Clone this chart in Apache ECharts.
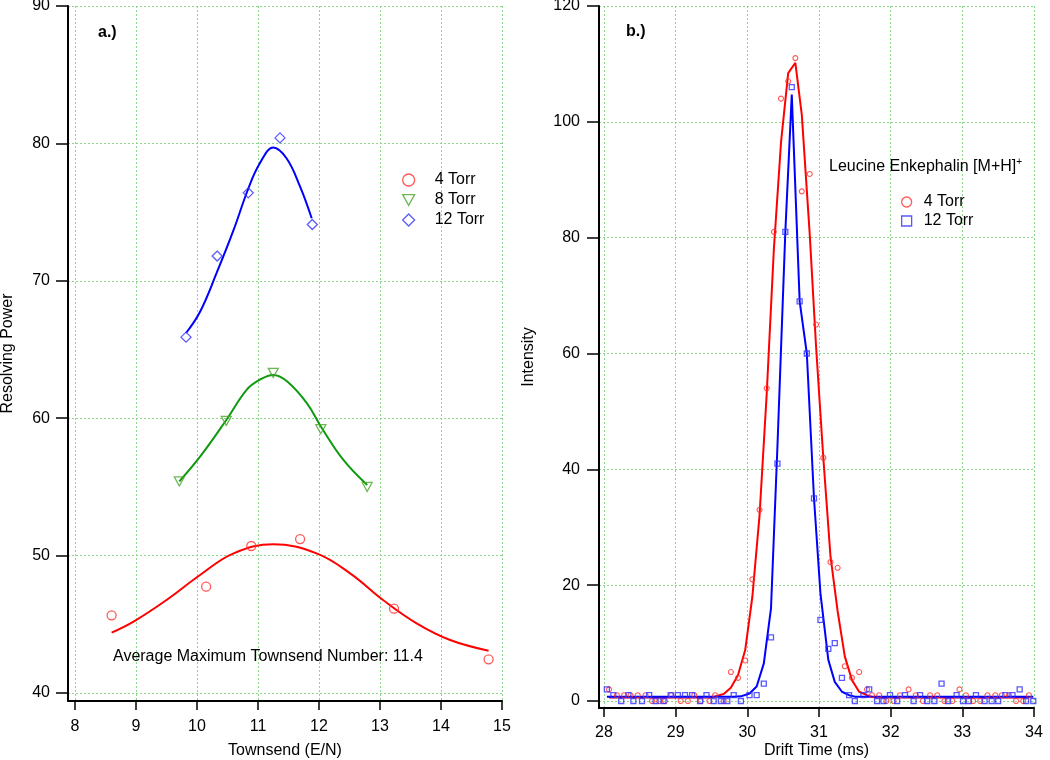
<!DOCTYPE html>
<html><head><meta charset="utf-8">
<script src="https://cdn.jsdelivr.net/npm/echarts@6/dist/echarts.min.js"></script>
<style>html,body{margin:0;padding:0;background:#fff}#c{width:1050px;height:760px}</style>
</head><body><div id="c"></div>
<script>
// ---------- Panel a: Resolving power vs Townsend ----------
const townsendTicks = [8, 9, 10, 11, 12, 13, 14, 15];
const rpTicks = [40, 50, 60, 70, 80, 90];

const townsend4 = [8.60, 10.15, 10.89, 11.69, 13.23, 14.78];
const rp4 = [45.65, 47.74, 50.7, 51.2, 46.14, 42.45];
const townsend8 = [9.71, 10.48, 11.25, 12.03, 12.79];
const rp8 = [55.4, 59.8, 63.3, 59.2, 55.0];
const townsend12 = [9.82, 10.33, 10.84, 11.36, 11.89];
const rp12 = [65.9, 71.8, 76.4, 80.4, 74.1];

const fit4x = [8.60, 8.96, 9.50, 10.05, 10.60, 11.25, 11.96, 12.51, 13.05, 13.60, 14.15, 14.78];
const fit4y = [44.4, 45.2, 46.77, 48.59, 50.16, 50.82, 50.16, 48.71, 46.77, 45.07, 43.86, 43.08];
const fit8x = [9.71, 10.05, 10.48, 10.81, 11.03, 11.25, 11.47, 11.80, 12.03, 12.40, 12.79];
const fit8y = [55.4, 57.2, 59.87, 62.05, 62.8, 63.15, 62.7, 61.1, 59.4, 56.96, 55.14];
const fit12x = [9.82, 10.05, 10.32, 10.60, 10.84, 11.03, 11.25, 11.47, 11.69, 11.88];
const fit12y = [66.2, 67.75, 70.55, 73.7, 76.7, 78.55, 79.7, 78.9, 76.85, 74.55];

// ---------- Panel b: Intensity vs drift time ----------
const driftTicks = [28, 29, 30, 31, 32, 33, 34];
const intTicks = [0, 20, 40, 60, 80, 100, 120];

const drift4 = [28.07,28.18,28.28,28.37,28.47,28.58,28.67,28.77,28.85,28.94,
  29.07,29.17,29.26,29.35,29.47,29.55,29.67,29.77,29.87,29.97,
  30.07,30.17,30.27,30.37,30.47,30.57,30.67,30.76,30.87,30.96,
  31.06,31.16,31.26,31.36,31.46,31.56,31.67,31.74,31.84,31.94,
  32.04,32.13,32.25,32.35,32.45,32.55,32.65,32.75,32.86,32.96,
  33.05,33.15,33.25,33.35,33.46,33.55,33.65,33.75,33.85,33.93];
const int4 = [2,1,1,1,1,1,0,0,0,1,
  0,0,1,0,0,1,0,5,4,7,
  21,33,54,81,104,107,111,88,91,65,
  42,24,23,6,4,5,2,1,1,0,
  0,1,2,1,0,1,1,0,0,2,
  1,0,0,1,1,1,1,0,0,1];
const fit4 = [0.6,0.6,0.6,0.6,0.6,0.6,0.6,0.6,0.6,0.6,
  0.6,0.6,0.6,0.6,0.6,0.8,1.2,2.3,4.5,8.8,
  18,32,53,78,96.5,108.4,110.2,101.2,80.7,61,
  42,25,15.5,7.7,3.6,1.6,1.0,0.7,0.6,0.6,
  0.6,0.6,0.6,0.6,0.6,0.6,0.6,0.6,0.6,0.6,
  0.6,0.6,0.6,0.6,0.6,0.6,0.6,0.6,0.6,0.6];

const drift12 = [28.04,28.13,28.24,28.34,28.41,28.53,28.63,28.72,28.83,28.93,
  29.03,29.13,29.23,29.34,29.43,29.53,29.63,29.72,29.81,29.91,
  30.03,30.13,30.23,30.33,30.42,30.53,30.62,30.73,30.83,30.93,
  31.02,31.13,31.22,31.32,31.42,31.50,31.62,31.70,31.81,31.90,
  31.99,32.09,32.20,32.32,32.41,32.51,32.61,32.71,32.80,32.92,
  33.01,33.09,33.19,33.31,33.41,33.50,33.60,33.70,33.80,33.89,33.99];
const int12 = [2,1,0,1,0,0,1,0,0,1,
  1,1,1,0,1,0,0,0,1,0,
  1,1,3,11,41,81,106,69,60,35,
  14,9,10,4,1,0,1,2,0,0,
  1,0,1,0,1,0,0,3,0,1,
  0,0,1,0,0,0,1,1,2,0,0];
const fit12 = [0.75,0.75,0.75,0.75,0.75,0.75,0.75,0.75,0.75,0.75,
  0.75,0.75,0.75,0.75,0.75,0.75,0.75,0.75,0.75,0.8,
  1.3,2.5,6.5,16,44,81,104.7,69,60,35,
  18.6,7.1,3.3,1.6,1.0,0.75,0.75,0.75,0.75,0.75,
  0.75,0.75,0.75,0.75,0.75,0.75,0.75,0.75,0.75,0.75,
  0.75,0.75,0.75,0.75,0.75,0.75,0.75,0.75,0.75,0.75,0.75];

const legendNamesB = { b4: '4 Torr', b12: '12 Torr' };

// ---------- build ----------
const FONT = '"Liberation Sans", Arial, Helvetica, sans-serif';
const zip = (xs, ys) => xs.map((x, i) => [x, ys[i]]);
const gridLine = { show: true, lineStyle: { color: '#8cd68c', type: [2, 2], width: 1 } };
const axisLine = { show: true, onZero: false, lineStyle: { color: '#000', width: 2 } };
const nameStyle = { fontSize: 16, color: '#000', fontFamily: FONT };

function valAxis(grid, min, max, ticks, tickLen, margin, name, gap) {
  return {
    type: 'value', gridIndex: grid, min: min, max: max,
    axisLine: axisLine,
    axisTick: { show: true, length: tickLen, customValues: ticks, lineStyle: { color: '#000', width: 1.5 } },
    axisLabel: { customValues: ticks, fontSize: 16, color: '#000', fontFamily: FONT, margin: margin },
    splitLine: gridLine,
    name: name, nameLocation: 'middle', nameGap: gap, nameTextStyle: nameStyle,
    nameMoveOverlap: false
  };
}

const option = {
  animation: false,
  backgroundColor: '#fff',
  textStyle: { fontFamily: FONT },
  grid: [
    { left: 68, top: 6, width: 434, height: 695, outerBoundsMode: 'none', containLabel: false },
    { left: 599, top: 6, width: 435, height: 702, outerBoundsMode: 'none', containLabel: false }
  ],
  xAxis: [
    valAxis(0, 7.885, 15, townsendTicks, 9, 18, 'Townsend (E/N)', 42),
    valAxis(1, 27.93, 34, driftTicks, 9, 17, 'Drift Time (ms)', 35)
  ],
  yAxis: [
    valAxis(0, 39.418, 90, rpTicks, 12, 18, 'Resolving Power', 52),
    valAxis(1, -1.209, 120, intTicks, 12, 19, 'Intensity', 62)
  ],
  title: [
    { text: 'a.)', left: 98, top: 25, padding: 0, textStyle: { fontSize: 16, fontWeight: 'bold', color: '#000', fontFamily: FONT } },
    { text: 'b.)', left: 626, top: 24, padding: 0, textStyle: { fontSize: 16, fontWeight: 'bold', color: '#000', fontFamily: FONT } },
    { text: 'Average Maximum Townsend Number: 11.4', left: 113, top: 649, padding: 0,
      textStyle: { fontSize: 16, fontWeight: 'normal', color: '#000', fontFamily: FONT } },
    { text: '{a|Leucine Enkephalin [M+H]}{s|+}', left: 829, top: 157, padding: 0,
      textStyle: { fontSize: 16, fontWeight: 'normal', color: '#000', fontFamily: FONT,
        rich: { a: { fontSize: 16, color: '#000', fontFamily: FONT, lineHeight: 20 },
                s: { fontSize: 10, color: '#000', fontFamily: FONT, verticalAlign: 'top', lineHeight: 10 } } } }
  ],
  legend: [
    { orient: 'vertical', left: 402, top: 172, itemWidth: 12, itemHeight: 12, itemGap: 4,
      data: [{ name: '4 Torr' }, { name: '8 Torr', icon: 'path://M0,0L10,0L5,9Z' }, { name: '12 Torr' }],
      selectedMode: false, padding: 0,
      itemStyle: { borderWidth: 1.3 },
      textStyle: { fontSize: 16, color: '#000', fontFamily: FONT, padding: [0, 0, 0, 15] } },
    { orient: 'vertical', left: 901, top: 194, itemWidth: 10, itemHeight: 10, itemGap: 3,
      data: ['b4', 'b12'], selectedMode: false, padding: 0,
      formatter: n => legendNamesB[n],
      itemStyle: { borderWidth: 1.3 },
      textStyle: { fontSize: 16, color: '#000', fontFamily: FONT, padding: [0, 0, 0, 7] } }
  ],
  series: [
    // panel a fits
    { type: 'line', name: 'fit4', xAxisIndex: 0, yAxisIndex: 0, data: zip(fit4x, fit4y), smooth: 0.4,
      symbol: 'none', lineStyle: { color: '#ff0000', width: 2 }, z: 2 },
    { type: 'line', name: 'fit8', xAxisIndex: 0, yAxisIndex: 0, data: zip(fit8x, fit8y), smooth: 0.4,
      symbol: 'none', lineStyle: { color: '#109a10', width: 2 }, z: 2 },
    { type: 'line', name: 'fit12', xAxisIndex: 0, yAxisIndex: 0, data: zip(fit12x, fit12y), smooth: 0.4,
      symbol: 'none', lineStyle: { color: '#0000ff', width: 2 }, z: 2 },
    // panel a points
    { type: 'scatter', name: '4 Torr', xAxisIndex: 0, yAxisIndex: 0, data: zip(townsend4, rp4),
      symbol: 'circle', symbolSize: 9,
      itemStyle: { color: 'rgba(255,255,255,0)', borderColor: '#ff3030', borderWidth: 1.3 }, z: 3 },
    { type: 'scatter', name: '8 Torr', xAxisIndex: 0, yAxisIndex: 0, data: zip(townsend8, rp8),
      symbol: 'triangle', symbolRotate: 180, symbolSize: [10, 9],
      itemStyle: { color: 'rgba(255,255,255,0)', borderColor: '#4aa52a', borderWidth: 1.3 }, z: 3 },
    { type: 'scatter', name: '12 Torr', xAxisIndex: 0, yAxisIndex: 0, data: zip(townsend12, rp12),
      symbol: 'diamond', symbolSize: [10, 10],
      itemStyle: { color: 'rgba(255,255,255,0)', borderColor: '#3333ff', borderWidth: 1.3 }, z: 3 },
    // panel b fits
    { type: 'line', name: 'fitb4', xAxisIndex: 1, yAxisIndex: 1, data: zip(drift4, fit4),
      symbol: 'none', lineStyle: { color: '#ff0000', width: 2 }, z: 2 },
    { type: 'line', name: 'fitb12', xAxisIndex: 1, yAxisIndex: 1, data: zip(drift12, fit12),
      symbol: 'none', lineStyle: { color: '#0000ff', width: 2 }, z: 2 },
    // panel b points
    { type: 'scatter', name: 'b4', xAxisIndex: 1, yAxisIndex: 1, data: zip(drift4, int4),
      symbol: 'circle', symbolSize: 5,
      itemStyle: { color: 'rgba(255,255,255,0)', borderColor: '#ff3030', borderWidth: 1.1 }, z: 3 },
    { type: 'scatter', name: 'b12', xAxisIndex: 1, yAxisIndex: 1, data: zip(drift12, int12),
      symbol: 'rect', symbolSize: 5,
      itemStyle: { color: 'rgba(255,255,255,0)', borderColor: '#3030ff', borderWidth: 1.3 }, z: 3 }
  ]
};

const chart = echarts.init(document.getElementById('c'), null, { renderer: 'canvas' });
chart.setOption(option);
</script>
</body></html>
